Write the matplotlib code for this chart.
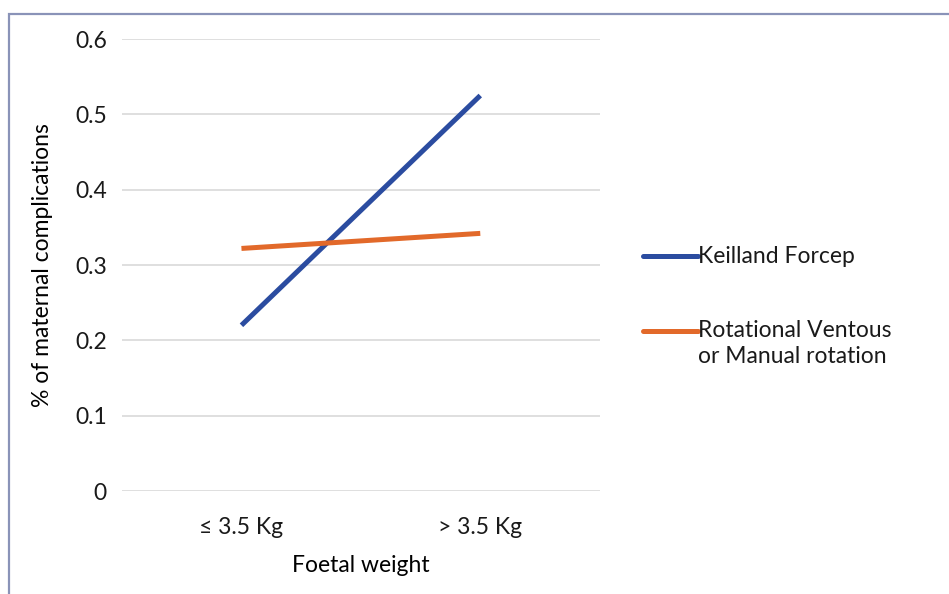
import matplotlib
matplotlib.use("Agg")
from matplotlib import pyplot as plt
from matplotlib.lines import Line2D
from matplotlib.patches import Rectangle

categories = ["≤ 3.5 Kg", "> 3.5 Kg"]
series_names = ["Keilland Forcep", "Rotational Ventous\nor Manual rotation"]
keilland = [0.22, 0.525]
rotational = [0.322, 0.342]
colors = ["#2b4ca0", "#e2692a"]
yticks = [0, 0.1, 0.2, 0.3, 0.4, 0.5, 0.6]

plt.rcParams['font.family'] = ['Lato', 'DejaVu Sans']
plt.rcParams['text.color'] = '#1a1a1a'
fs = 16.5

fig = plt.figure(figsize=(9.49, 5.94), dpi=100)
ax = fig.add_axes([0.1286, 0.1734, 0.5033, 0.7609])

x = list(range(len(categories)))
for vals, c, name in zip([keilland, rotational], colors, series_names):
    ax.plot(x, vals, color=c, lw=3.6, solid_capstyle='butt', zorder=3, label=name)

ax.set_xlim(-0.5, 1.5)
ax.set_ylim(0, 0.6)
ax.set_yticks(yticks)
ax.set_yticklabels(["0" if v == 0 else f"{v:.1f}" for v in yticks])
ax.set_xticks(x)
ax.set_xticklabels(categories)
ax.tick_params(length=0, labelsize=fs, colors='#1a1a1a')
ax.tick_params(axis='y', pad=11)
ax.tick_params(axis='x', pad=19)
ax.grid(axis='y', color='#d9d9d9', lw=1.2)
ax.set_axisbelow(True)
for s in ax.spines.values():
    s.set_visible(False)

ax.set_xlabel("Foetal weight", fontsize=fs, labelpad=12)
ax.set_ylabel("% of maternal complications", fontsize=fs, labelpad=16)

# legend drawn by hand so the handle sits on the first text line
leg_y = [0.569, 0.443]
for yy, c, name in zip(leg_y, colors, series_names):
    fig.add_artist(Line2D([0.678, 0.735], [yy, yy], color=c, lw=3.6,
                          solid_capstyle='round'))
    multi = '\n' in name
    fig.text(0.736, yy + (0.019 if multi else 0), name, fontsize=fs,
             va='top' if multi else 'center', linespacing=1.3)

# frame around the figure (top and left visible)
fig.add_artist(Rectangle((0.0095, -0.01), 1.1, 0.9865, transform=fig.transFigure,
                         fill=False, edgecolor='#8a93b8', lw=1.6))

fig.savefig("out.png", dpi=100)
